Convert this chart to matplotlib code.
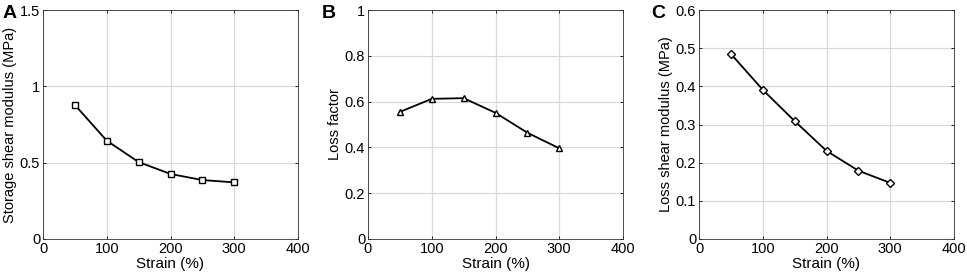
import matplotlib.pyplot as plt

plt.rcParams['font.family'] = ['Liberation Sans', 'DejaVu Sans']

# Data
strain = [50, 100, 150, 200, 250, 300]
storage_modulus = [0.878, 0.644, 0.504, 0.426, 0.386, 0.371]
loss_factor = [0.555, 0.612, 0.615, 0.551, 0.464, 0.396]
loss_modulus = [0.485, 0.391, 0.309, 0.231, 0.179, 0.147]

fig = plt.figure(figsize=(9.67, 2.75), dpi=100)

panels = [
    ('A', storage_modulus, 's', 'Storage shear modulus (MPa)', 1.5, [0, 0.5, 1, 1.5], ['0', '0.5', '1', '1.5'], 43, 3),
    ('B', loss_factor, '^', 'Loss factor', 1.0, [0, 0.2, 0.4, 0.6, 0.8, 1], ['0', '0.2', '0.4', '0.6', '0.8', '1'], 368, 322),
    ('C', loss_modulus, 'D', 'Loss shear modulus (MPa)', 0.6, [0, 0.1, 0.2, 0.3, 0.4, 0.5, 0.6],
     ['0', '0.1', '0.2', '0.3', '0.4', '0.5', '0.6'], 699, 651),
]

W, H = 967, 275
for label, vals, marker, ylabel, ymax, yt, ytl, left, lx in panels:
    ax = fig.add_axes([left / W, 1 - 239 / H, 255 / W, 229 / H])
    ms = 5 if marker != 'D' else 4.5
    ax.plot(strain, vals, color='black', lw=1.3, marker=marker, ms=ms,
            mfc='white', mec='black', mew=1.0)
    ax.set_xlim(0, 400)
    ax.set_ylim(0, ymax)
    ax.set_xticks([0, 100, 200, 300, 400])
    ax.set_yticks(yt)
    ax.set_yticklabels(ytl)
    ax.grid(True, color='#d9d9d9', lw=0.9)
    ax.set_axisbelow(True)
    ax.tick_params(direction='in', top=True, right=True, length=2.5,
                   labelsize=10.5, pad=2, width=0.6)
    for s in ax.spines.values():
        s.set_linewidth(0.6)
        s.set_color('#333333')
    ax.set_xlabel('Strain (%)', fontsize=11, labelpad=1)
    ax.set_ylabel(ylabel, fontsize=10.5, labelpad=2)
    fig.text(lx / W, 1 - 14 / H, label, fontsize=14, fontweight='bold',
             va='center', ha='left')

fig.savefig('out.png', dpi=100, facecolor='white')
